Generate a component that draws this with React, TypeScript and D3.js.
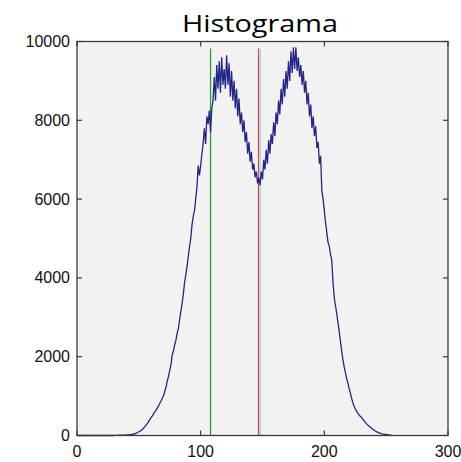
import React from "react";
import * as d3 from "d3";

const title = "Histograma";
const xTicks = [0, 100, 200, 300];
const yTicks = [0, 2000, 4000, 6000, 8000, 10000];

// histogram counts for bins 0..255
const counts = [
  0, 0, 0, 0, 0, 0, 0, 0, 0, 0,
  0, 0, 0, 0, 0, 0, 0, 0, 0, 0,
  0, 0, 0, 0, 0, 0, 0, 0, 0, 0,
  2, 3, 5, 4, 6, 8, 7, 10, 12, 11,
  15, 18, 17, 22, 25, 30, 38, 45, 60, 75,
  95, 110, 135, 160, 195, 230, 270, 310, 360, 410,
  460, 500, 560, 600, 650, 700, 760, 820, 880, 950,
  1010, 1120, 1230, 1380, 1500, 1650, 1800, 2050, 2150, 2300,
  2420, 2600, 2720, 2950, 3150, 3350, 3600, 3880, 4080, 4300,
  4550, 4800, 5000, 5350, 5560, 5700, 6000, 6300, 6850, 6600,
  6850, 7150, 7400, 7800, 7400, 8100, 7900, 8250, 7700, 8300,
  8500, 9100, 8500, 9400, 8800, 9500, 8700, 9600, 8900, 9300,
  8800, 9650, 8900, 9450, 8600, 9250, 8500, 9000, 8300, 8800,
  8100, 8550, 7900, 8200, 7700, 8000, 7450, 7700, 7150, 7450,
  6950, 7200, 6750, 6900, 6550, 6700, 6400, 6550, 6350, 6700,
  6500, 7000, 6750, 7250, 6900, 7500, 7150, 7650, 7400, 7950,
  7600, 8200, 7900, 8500, 8150, 8800, 8400, 9050, 8600, 9250,
  8800, 9500, 9000, 9750, 9200, 9850, 9300, 9850, 9250, 9600,
  9100, 9400, 8900, 9250, 8700, 9000, 8400, 8700, 8100, 8400,
  7800, 8100, 7600, 7850, 7300, 7450, 6900, 7100, 6200, 6000,
  5700, 5400, 5150, 4900, 4800, 4600, 4450, 3900, 3500, 3300,
  3100, 2870, 2650, 2400, 2150, 1930, 1750, 1600, 1450, 1340,
  1200, 1080, 950, 840, 750, 680, 620, 570, 530, 490,
  460, 420, 380, 340, 300, 270, 240, 215, 190, 165,
  140, 120, 100, 85, 75, 60, 50, 42, 35, 30,
  25, 20, 15, 10, 6, 3,
];

const markerXs = [108, 146.8, 148.3];
const markerColors = ["#2f9a3a", "#e0403a", "#8fe0f0"];
const markerTop = 9820;

const W = 461;
const H = 462;
const left = 77;
const right = 448;
const top = 41.5;
const bottom = 435.5;

export default function App() {
  const x = d3.scaleLinear().domain([0, 300]).range([left, right]);
  const y = d3.scaleLinear().domain([0, 10000]).range([bottom, top]);
  const line = d3
    .line<number>()
    .x((_, i) => x(i))
    .y((d) => y(d));
  const path = line(counts) || "";
  const tickLen = 5;
  const axisColor = "#3a3a3a";
  const labelFont = "'Liberation Sans', Arial, sans-serif";

  return (
    <div style={{ position: "absolute", left: 0, top: 0 }}>
      <svg width={W} height={H} style={{ display: "block" }}>
        <rect x={0} y={0} width={W} height={H} fill="#ffffff" />
        <rect x={left} y={top} width={right - left} height={bottom - top} fill="#f2f2f2" />
        {markerXs.map((m, i) => (
          <line
            key={"m" + i}
            x1={x(m)}
            x2={x(m)}
            y1={y(markerTop)}
            y2={y(0)}
            stroke={markerColors[i]}
            strokeWidth={1.3}
          />
        ))}
        <path d={path} fill="none" stroke="#24248a" strokeWidth={1.3} strokeLinejoin="miter" />
        {yTicks.map((t) => (
          <g key={"y" + t}>
            <line x1={left} x2={left + tickLen} y1={y(t)} y2={y(t)} stroke={axisColor} strokeWidth={1.2} />
            <line x1={right} x2={right - tickLen} y1={y(t)} y2={y(t)} stroke={axisColor} strokeWidth={1.2} />
            <text
              x={left - 7}
              y={y(t)}
              textAnchor="end"
              dominantBaseline="central"
              fontFamily={labelFont}
              fontSize={16}
              fill="#111"
            >
              {t}
            </text>
          </g>
        ))}
        {xTicks.map((t) => (
          <g key={"x" + t}>
            <line x1={x(t)} x2={x(t)} y1={bottom} y2={bottom - tickLen} stroke={axisColor} strokeWidth={1.2} />
            <line x1={x(t)} x2={x(t)} y1={top} y2={top + tickLen} stroke={axisColor} strokeWidth={1.2} />
            <text
              x={x(t)}
              y={457}
              textAnchor="middle"
              fontFamily={labelFont}
              fontSize={16}
              fill="#111"
            >
              {t}
            </text>
          </g>
        ))}
        <rect
          x={left}
          y={top}
          width={right - left}
          height={bottom - top}
          fill="none"
          stroke={axisColor}
          strokeWidth={1.3}
        />
        <text
          x={260}
          y={32}
          textAnchor="middle"
          fontFamily="'Open Sans', 'DejaVu Sans', sans-serif"
          fontSize={24}
          fill="#000"
          textLength={156}
          lengthAdjust="spacingAndGlyphs"
        >
          {title}
        </text>
      </svg>
    </div>
  );
}
